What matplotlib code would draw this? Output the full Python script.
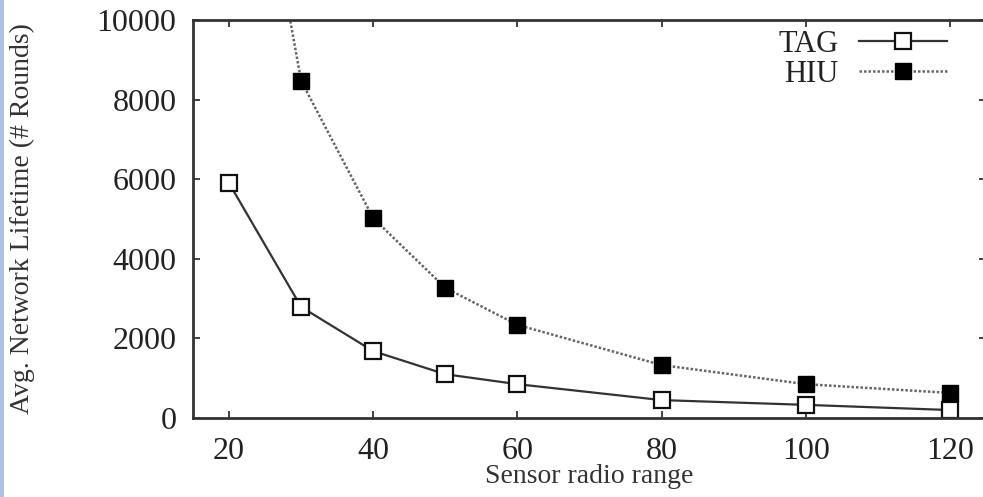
import matplotlib
matplotlib.use("Agg")
import matplotlib.pyplot as plt
from matplotlib.patches import Rectangle

x_range = [20, 30, 40, 50, 60, 80, 100, 120]
tag = [5900, 2790, 1680, 1100, 850, 450, 330, 200]
hiu = [18500, 8470, 5020, 3270, 2340, 1330, 850, 630]
x_ticks = [20, 40, 60, 80, 100, 120]
y_ticks = [0, 2000, 4000, 6000, 8000, 10000]

plt.rcParams['font.family'] = ['Liberation Serif', 'DejaVu Serif']

fig = plt.figure(figsize=(9.83, 4.97), dpi=100)
fig.patches.append(Rectangle((0, 0), 4/983, 1, transform=fig.transFigure,
                             facecolor='#a9c1e3', edgecolor='none', zorder=0))
ax = fig.add_axes([193/983, 79/497, 793/983, 398/497])

ax.plot(x_range, tag, color='#333333', lw=1.6, ls='-', marker='s', ms=12,
        mfc='white', mec='#111111', mew=1.6, label='TAG')
ax.plot(x_range, hiu, color='#666666', lw=1.8, ls=(0, (1, 0.8)), marker='s', ms=12,
        mfc='black', mec='black', mew=1.0, label='HIU')

ax.set_xlim(15, 125)
ax.set_ylim(0, 10000)
ax.set_xticks(x_ticks)
ax.set_yticks(y_ticks)
ax.tick_params(direction='in', length=5, width=1.2, top=True, right=True,
               labelsize=23, colors='#222222')
ax.tick_params(axis='x', pad=14)
ax.tick_params(axis='y', pad=12)
for s in ax.spines.values():
    s.set_linewidth(2)
    s.set_color('#333333')

ax.set_xlabel('Sensor radio range', fontsize=20, labelpad=-2, color='#333333')
ax.set_ylabel('Avg. Network Lifetime (# Rounds)', fontsize=20, labelpad=0, color='#333333')
ax.yaxis.set_label_coords(-0.199, 0.5)

leg = ax.legend(loc='upper right', bbox_to_anchor=(0.951, 0.975), frameon=False,
                fontsize=22, markerfirst=False, handlelength=2.9, handletextpad=0.65,
                labelspacing=0.04, borderaxespad=0, borderpad=0)
for t in leg.get_texts():
    t.set_color('#222222')

fig.savefig('out.png', dpi=100)
